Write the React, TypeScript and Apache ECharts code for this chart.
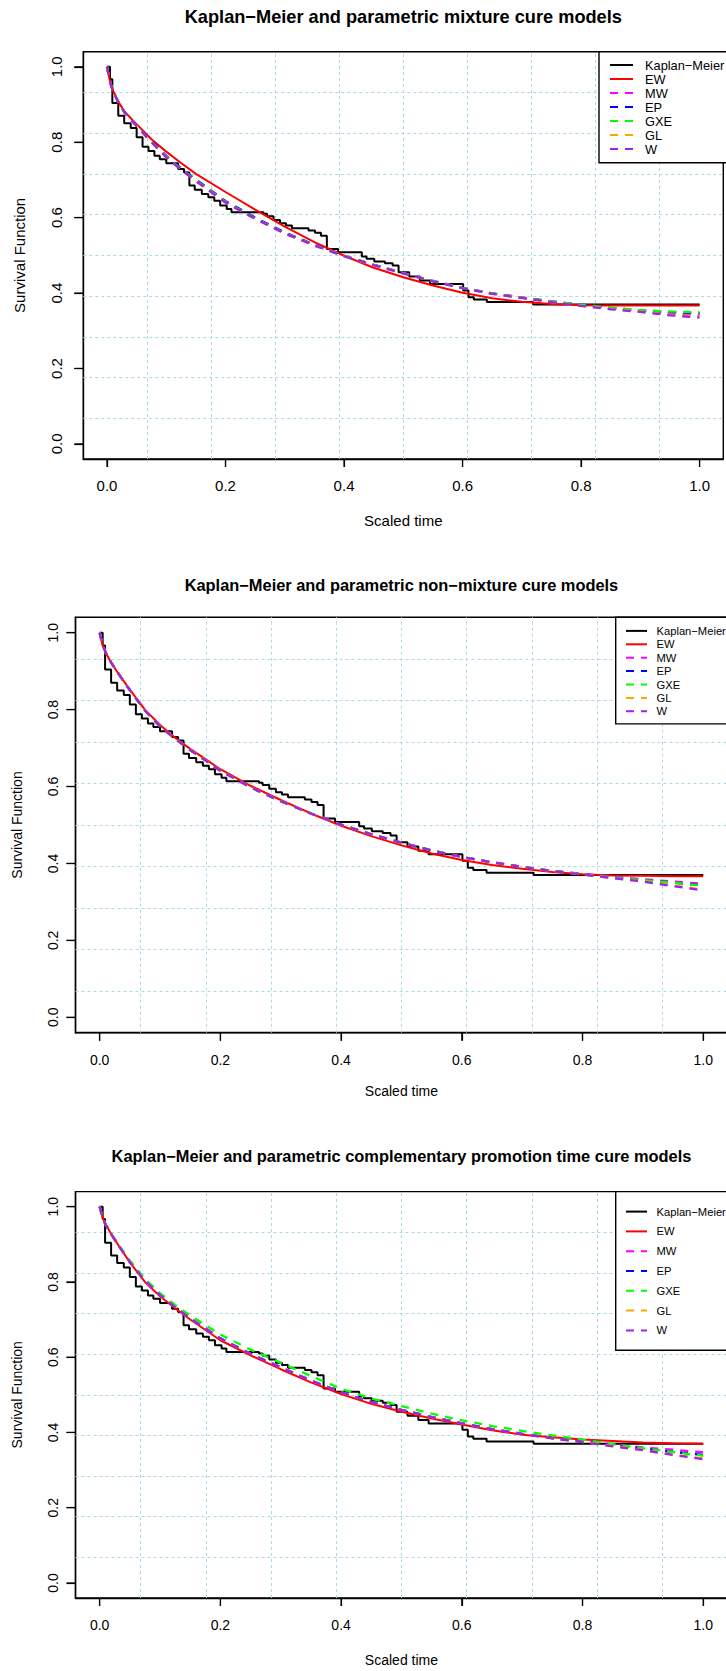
import React, { useEffect, useRef } from "react";
import * as echarts from "echarts";

const FONT = "'Liberation Sans', Arial, Helvetica, sans-serif";

// Axis range (data range 0..1 padded by 4% on each side) and tick marks
const AXIS_MIN = -0.04;
const AXIS_MAX = 1.04;
const TICKS = [0, 0.2, 0.4, 0.6, 0.8, 1.0];
const TICK_LABELS = ["0.0", "0.2", "0.4", "0.6", "0.8", "1.0"];

const X_NAME = "Scaled time";
const Y_NAME = "Survival Function";

// Kaplan–Meier estimate (time of each drop, survival after the drop)
const KM_TIME = [0, 0.005, 0.009, 0.019, 0.029, 0.04, 0.05, 0.06, 0.07, 0.08, 0.089, 0.1, 0.12, 0.13, 0.139, 0.148, 0.16, 0.171, 0.181, 0.191, 0.202, 0.21, 0.264, 0.27, 0.281, 0.292, 0.302, 0.312, 0.34, 0.351, 0.361, 0.371, 0.39, 0.43, 0.438, 0.451, 0.469, 0.482, 0.492, 0.51, 0.528, 0.545, 0.601, 0.61, 0.619, 0.641, 0.719, 1.0];
const KM_SURV = [1.0, 0.967, 0.904, 0.87, 0.85, 0.838, 0.813, 0.788, 0.777, 0.764, 0.755, 0.744, 0.729, 0.72, 0.685, 0.674, 0.663, 0.654, 0.645, 0.632, 0.623, 0.614, 0.61, 0.604, 0.594, 0.585, 0.579, 0.572, 0.566, 0.56, 0.552, 0.517, 0.508, 0.497, 0.491, 0.484, 0.479, 0.473, 0.455, 0.444, 0.433, 0.424, 0.407, 0.389, 0.383, 0.376, 0.37, 0.37];

// Times at which the fitted survival curves are tabulated
const TIME = [0, 0.005, 0.01, 0.02, 0.03, 0.05, 0.075, 0.1, 0.125, 0.15, 0.2, 0.25, 0.3, 0.35, 0.4, 0.45, 0.5, 0.55, 0.6, 0.65, 0.7, 0.75, 0.8, 0.85, 0.9, 0.95, 1.0];

// Mixture cure models
const MIX_EW = [1.0, 0.962, 0.937, 0.905, 0.88, 0.848, 0.808, 0.775, 0.745, 0.716, 0.668, 0.621, 0.576, 0.535, 0.499, 0.467, 0.442, 0.42, 0.401, 0.386, 0.377, 0.371, 0.368, 0.367, 0.367, 0.367, 0.367];
const MIX_MW = [1.0, 0.96, 0.936, 0.903, 0.878, 0.843, 0.8, 0.761, 0.728, 0.698, 0.641, 0.598, 0.559, 0.527, 0.499, 0.475, 0.453, 0.432, 0.414, 0.399, 0.388, 0.377, 0.367, 0.359, 0.353, 0.347, 0.342];
const MIX_EP = [1.0, 0.96, 0.936, 0.904, 0.879, 0.845, 0.803, 0.764, 0.731, 0.701, 0.644, 0.6, 0.561, 0.528, 0.499, 0.475, 0.453, 0.432, 0.414, 0.399, 0.388, 0.378, 0.369, 0.361, 0.354, 0.35, 0.347];
const MIX_GXE = [1.0, 0.96, 0.936, 0.903, 0.878, 0.844, 0.801, 0.762, 0.729, 0.699, 0.642, 0.598, 0.559, 0.527, 0.499, 0.475, 0.453, 0.432, 0.414, 0.399, 0.388, 0.378, 0.369, 0.361, 0.355, 0.351, 0.349];
const MIX_GL = [1.0, 0.96, 0.936, 0.903, 0.878, 0.843, 0.8, 0.76, 0.727, 0.697, 0.64, 0.597, 0.558, 0.526, 0.498, 0.474, 0.452, 0.431, 0.413, 0.398, 0.387, 0.376, 0.366, 0.358, 0.351, 0.343, 0.338];
const MIX_W = [1.0, 0.96, 0.936, 0.903, 0.878, 0.843, 0.8, 0.76, 0.727, 0.697, 0.64, 0.597, 0.558, 0.526, 0.498, 0.474, 0.452, 0.431, 0.413, 0.398, 0.387, 0.376, 0.366, 0.357, 0.35, 0.341, 0.335];

// Non-mixture cure models
const NON_EW = [1.0, 0.968, 0.948, 0.92, 0.896, 0.852, 0.8, 0.76, 0.727, 0.698, 0.645, 0.602, 0.565, 0.53, 0.498, 0.471, 0.447, 0.426, 0.409, 0.396, 0.386, 0.378, 0.372, 0.369, 0.368, 0.367, 0.367];
const NON_MW = [1.0, 0.968, 0.948, 0.92, 0.896, 0.851, 0.798, 0.757, 0.724, 0.695, 0.641, 0.598, 0.562, 0.53, 0.501, 0.476, 0.454, 0.434, 0.417, 0.403, 0.391, 0.381, 0.373, 0.366, 0.359, 0.353, 0.347];
const NON_EP = [1.0, 0.968, 0.948, 0.92, 0.896, 0.851, 0.798, 0.757, 0.724, 0.695, 0.641, 0.598, 0.562, 0.53, 0.501, 0.476, 0.454, 0.434, 0.417, 0.403, 0.391, 0.381, 0.372, 0.364, 0.357, 0.35, 0.343];
const NON_GXE = [1.0, 0.968, 0.948, 0.92, 0.896, 0.851, 0.798, 0.757, 0.724, 0.695, 0.641, 0.598, 0.562, 0.53, 0.501, 0.476, 0.454, 0.434, 0.417, 0.403, 0.391, 0.381, 0.372, 0.364, 0.357, 0.35, 0.342];
const NON_GL = [1.0, 0.968, 0.948, 0.92, 0.896, 0.851, 0.798, 0.757, 0.724, 0.695, 0.641, 0.598, 0.562, 0.53, 0.501, 0.476, 0.454, 0.434, 0.417, 0.403, 0.391, 0.38, 0.371, 0.362, 0.354, 0.343, 0.332];
const NON_W = [1.0, 0.968, 0.948, 0.92, 0.896, 0.851, 0.798, 0.757, 0.724, 0.695, 0.641, 0.598, 0.562, 0.53, 0.501, 0.476, 0.454, 0.434, 0.417, 0.403, 0.391, 0.38, 0.371, 0.362, 0.353, 0.341, 0.33];

// Complementary promotion time cure models
const CPT_EW = [1.0, 0.972, 0.953, 0.925, 0.9, 0.852, 0.8, 0.762, 0.73, 0.7, 0.645, 0.605, 0.568, 0.533, 0.502, 0.476, 0.455, 0.437, 0.421, 0.406, 0.394, 0.387, 0.381, 0.377, 0.373, 0.371, 0.37];
const CPT_MW = [1.0, 0.97, 0.952, 0.925, 0.9, 0.853, 0.803, 0.765, 0.733, 0.703, 0.65, 0.609, 0.573, 0.538, 0.507, 0.481, 0.46, 0.441, 0.424, 0.409, 0.396, 0.385, 0.376, 0.368, 0.36, 0.354, 0.347];
const CPT_EP = [1.0, 0.97, 0.952, 0.925, 0.9, 0.853, 0.803, 0.765, 0.733, 0.703, 0.65, 0.609, 0.573, 0.538, 0.507, 0.481, 0.46, 0.441, 0.424, 0.409, 0.396, 0.385, 0.375, 0.366, 0.357, 0.348, 0.34];
const CPT_GXE = [1.0, 0.971, 0.953, 0.926, 0.902, 0.857, 0.808, 0.77, 0.739, 0.711, 0.66, 0.62, 0.585, 0.55, 0.516, 0.49, 0.47, 0.45, 0.432, 0.417, 0.404, 0.392, 0.381, 0.369, 0.358, 0.348, 0.338];
const CPT_GL = [1.0, 0.97, 0.952, 0.925, 0.9, 0.853, 0.803, 0.765, 0.733, 0.703, 0.65, 0.609, 0.573, 0.538, 0.507, 0.481, 0.46, 0.441, 0.424, 0.409, 0.396, 0.384, 0.374, 0.364, 0.354, 0.341, 0.331];
const CPT_W = [1.0, 0.97, 0.952, 0.925, 0.9, 0.853, 0.803, 0.765, 0.733, 0.703, 0.65, 0.609, 0.573, 0.538, 0.507, 0.481, 0.46, 0.441, 0.424, 0.409, 0.396, 0.384, 0.374, 0.363, 0.353, 0.34, 0.329];

const KM_NAME = "Kaplan\u2212Meier";
const MODEL_NAMES = ["EW", "MW", "EP", "GXE", "GL", "W"];
const MODEL_COLORS = ["#ff0000", "#ff00ff", "#0000ff", "#00ff00", "#ffa500", "#a020f0"];
const DASH = [8, 7];

const PANELS = [
  {
    title: "Kaplan\u2212Meier and parametric mixture cure models",
    curves: [MIX_EW, MIX_MW, MIX_EP, MIX_GXE, MIX_GL, MIX_W],
    grid: { left: 83.3, top: 51.7, width: 640, height: 407.3 },
    tickFont: 15,
    xMargin: 19,
    yMargin: 19,
    titleFont: 18.2,
    titleY: 17,
    yNameX: 19,
    xNameY: 520,
    legend: { left: 599, top: 51.7, bottom: 162.7, row0: 65, gap: 14, l0: 610, l1: 633, tx: 645, font: 12.8 },
  },
  {
    title: "Kaplan\u2212Meier and parametric non\u2212mixture cure models",
    curves: [NON_EW, NON_MW, NON_EP, NON_GXE, NON_GL, NON_W],
    grid: { left: 75.5, top: 617.3, width: 651.9, height: 415.4 },
    tickFont: 14,
    xMargin: 20,
    yMargin: 16,
    titleFont: 16.4,
    titleY: 585,
    yNameX: 17,
    xNameY: 1091,
    legend: { left: 615.7, top: 617.3, bottom: 723.9, row0: 630.9, gap: 13.4, l0: 626, l1: 647, tx: 656.5, font: 11.2 },
  },
  {
    title: "Kaplan\u2212Meier and parametric complementary promotion time cure models",
    curves: [CPT_EW, CPT_MW, CPT_EP, CPT_GXE, CPT_GL, CPT_W],
    grid: { left: 75.5, top: 1191.6, width: 651.9, height: 406.4 },
    tickFont: 14,
    xMargin: 20,
    yMargin: 16,
    titleFont: 16.4,
    titleY: 1156,
    yNameX: 17,
    xNameY: 1660,
    legend: { left: 615.7, top: 1191.6, bottom: 1350.3, row0: 1211.6, gap: 19.8, l0: 626, l1: 647, tx: 656.5, font: 11.2 },
  },
];

const X_TICK_PX = 8;
const Y_TICK_PX = 9;

function buildOption() {
  const grids: any[] = [];
  const xAxes: any[] = [];
  const yAxes: any[] = [];
  const series: any[] = [];
  const graphics: any[] = [];

  // Reference grid: 10 equal cells across the padded plot region
  const gridPos: number[] = [];
  for (let k = 1; k < 10; k++) gridPos.push(AXIS_MIN + (k * (AXIS_MAX - AXIS_MIN)) / 10);

  const labelFmt = (v: number) => {
    const idx = TICKS.findIndex((t) => Math.abs(t - v) < 1e-9);
    return idx >= 0 ? TICK_LABELS[idx] : "";
  };

  PANELS.forEach((p, i) => {
    const g = p.grid;
    grids.push({
      left: g.left,
      top: g.top,
      width: g.width,
      height: g.height,
      show: true,
      borderColor: "#000",
      borderWidth: 1.4,
      backgroundColor: "transparent",
      containLabel: false,
      outerBoundsMode: "none",
    });
    const axisLine = { show: true, onZero: false, lineStyle: { color: "#000", width: 1.4 } };
    xAxes.push({
      type: "value",
      gridIndex: i,
      position: "bottom",
      min: AXIS_MIN,
      max: AXIS_MAX,
      axisLine,
      splitLine: { show: false },
      axisTick: { show: true, inside: false, length: X_TICK_PX, customValues: TICKS, lineStyle: { color: "#000", width: 1.2 } },
      axisLabel: {
        customValues: TICKS,
        formatter: labelFmt,
        margin: p.xMargin,
        fontSize: p.tickFont,
        fontFamily: FONT,
        color: "#000",
      },
    });
    yAxes.push({
      type: "value",
      gridIndex: i,
      position: "left",
      min: AXIS_MIN,
      max: AXIS_MAX,
      axisLine,
      splitLine: { show: false },
      axisTick: { show: true, inside: false, length: Y_TICK_PX, customValues: TICKS, lineStyle: { color: "#000", width: 1.2 } },
      axisLabel: {
        customValues: TICKS,
        formatter: labelFmt,
        rotate: 90,
        margin: p.yMargin,
        fontSize: p.tickFont,
        fontFamily: FONT,
        color: "#000",
      },
    });

    // dashed light-blue reference grid
    series.push({
      type: "lines",
      coordinateSystem: "cartesian2d",
      xAxisIndex: i,
      yAxisIndex: i,
      silent: true,
      z: 1,
      lineStyle: { color: "#add8e6", width: 1, type: [3, 3], opacity: 1 },
      data: [
        ...gridPos.map((v) => ({ coords: [[v, AXIS_MIN], [v, AXIS_MAX]] })),
        ...gridPos.map((v) => ({ coords: [[AXIS_MIN, v], [AXIS_MAX, v]] })),
      ],
    });

    // Kaplan–Meier step curve
    series.push({
      type: "line",
      name: KM_NAME,
      xAxisIndex: i,
      yAxisIndex: i,
      step: "end",
      symbol: "none",
      silent: true,
      z: 2,
      lineStyle: { color: "#000", width: 2 },
      data: KM_TIME.map((t, j) => [t, KM_SURV[j]]),
    });

    // parametric fits
    p.curves.forEach((vals, m) => {
      series.push({
        type: "line",
        name: MODEL_NAMES[m],
        xAxisIndex: i,
        yAxisIndex: i,
        symbol: "none",
        silent: true,
        smooth: false,
        z: 2,
        lineStyle: {
          color: MODEL_COLORS[m],
          width: m === 0 ? 2 : 2.3,
          type: m === 0 ? "solid" : DASH,
        },
        data: TIME.map((t, j) => [t, vals[j]]),
      });
    });

    const cx = g.left + g.width / 2;
    const cy = g.top + g.height / 2;

    // panel title
    graphics.push({
      type: "text",
      id: `title${i}`,
      x: cx,
      y: p.titleY,
      z: 50,
      style: {
        text: p.title,
        fill: "#000",
        fontSize: p.titleFont,
        fontWeight: "bold",
        fontFamily: FONT,
        align: "center",
        verticalAlign: "middle",
      },
    });
    // axis names
    graphics.push({
      type: "text",
      id: `xname${i}`,
      x: cx,
      y: p.xNameY,
      z: 50,
      style: {
        text: X_NAME,
        fill: "#000",
        fontSize: p.tickFont,
        fontFamily: FONT,
        align: "center",
        verticalAlign: "middle",
      },
    });
    graphics.push({
      type: "text",
      id: `yname${i}`,
      x: p.yNameX,
      y: cy,
      rotation: Math.PI / 2,
      z: 50,
      style: {
        text: Y_NAME,
        fill: "#000",
        fontSize: p.tickFont,
        fontFamily: FONT,
        align: "center",
        verticalAlign: "middle",
      },
    });

    // legend box
    const L = p.legend;
    graphics.push({
      type: "rect",
      id: `legbox${i}`,
      z: 60,
      shape: { x: L.left, y: L.top, width: 200, height: L.bottom - L.top },
      style: { fill: "#fff", stroke: "#000", lineWidth: 1.4 },
    });
    const entries = [
      { name: KM_NAME, color: "#000", dash: null as number[] | null },
      ...MODEL_NAMES.map((n, m) => ({ name: n, color: MODEL_COLORS[m], dash: m === 0 ? null : DASH })),
    ];
    entries.forEach((e, k) => {
      const y = L.row0 + k * L.gap;
      graphics.push({
        type: "line",
        id: `legline${i}_${k}`,
        z: 61,
        shape: { x1: L.l0, y1: y, x2: L.l1, y2: y },
        style: { stroke: e.color, lineWidth: 2, lineDash: e.dash || undefined },
      });
      graphics.push({
        type: "text",
        id: `legtext${i}_${k}`,
        z: 61,
        x: L.tx,
        y: y,
        style: {
          text: e.name,
          fill: "#000",
          fontSize: L.font,
          fontFamily: FONT,
          align: "left",
          verticalAlign: "middle",
        },
      });
    });
  });

  return {
    animation: false,
    backgroundColor: "#fff",
    grid: grids,
    xAxis: xAxes,
    yAxis: yAxes,
    series,
    graphic: { elements: graphics },
  };
}

// Outward tick marks placed with the axes' own scales
function tickMarks(chart: echarts.ECharts) {
  const els: any[] = [];
  PANELS.forEach((_p, i) => {
    const yBase = chart.convertToPixel({ yAxisIndex: i } as any, AXIS_MIN) as number;
    const xBase = chart.convertToPixel({ xAxisIndex: i } as any, AXIS_MIN) as number;
    TICKS.forEach((t, k) => {
      const px = chart.convertToPixel({ xAxisIndex: i } as any, t) as number;
      const py = chart.convertToPixel({ yAxisIndex: i } as any, t) as number;
      els.push({
        type: "line",
        id: `xtick${i}_${k}`,
        z: 70,
        shape: { x1: px, y1: yBase, x2: px, y2: yBase + X_TICK_PX },
        style: { stroke: "#000", lineWidth: 1.2 },
      });
      els.push({
        type: "line",
        id: `ytick${i}_${k}`,
        z: 70,
        shape: { x1: xBase, y1: py, x2: xBase - Y_TICK_PX, y2: py },
        style: { stroke: "#000", lineWidth: 1.2 },
      });
    });
  });
  return els;
}

export default function App() {
  const ref = useRef<HTMLDivElement>(null);
  useEffect(() => {
    document.body.style.margin = "0";
    const chart = echarts.init(ref.current!, null, { renderer: "svg", width: 726, height: 1671 });
    const option = buildOption();
    chart.setOption(option as any);
    chart.setOption({ graphic: { elements: [...option.graphic.elements, ...tickMarks(chart)] } } as any);
    return () => chart.dispose();
  }, []);
  return (
    <div
      ref={ref}
      style={{ position: "absolute", left: 0, top: 0, width: 726, height: 1671 }}
    />
  );
}
